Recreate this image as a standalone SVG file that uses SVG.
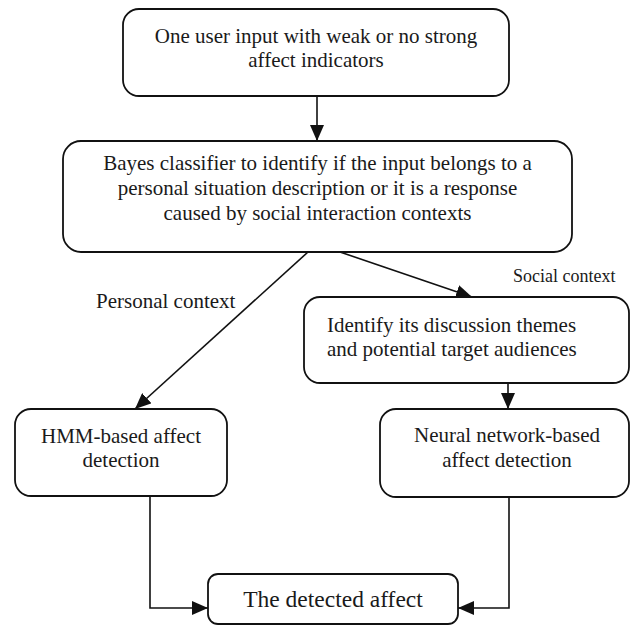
<svg xmlns="http://www.w3.org/2000/svg" width="631" height="626" viewBox="0 0 631 626">
  <defs>
    <marker id="arrow" markerUnits="userSpaceOnUse" markerWidth="16" markerHeight="14" refX="16" refY="7" orient="auto">
      <path d="M0,0 L16,7 L0,14 z" fill="#111"/>
    </marker>
    <style>
      .box { fill: #fff; stroke: #111; stroke-width: 1.8; }
      .txt { font-family: "Liberation Serif", "Times New Roman", serif; font-size: 21px; fill: #1a1a1a; }
      .mid { text-anchor: middle; }
      .edge { fill: none; stroke: #111; stroke-width: 1.6; marker-end: url(#arrow); }
    </style>
  </defs>
  <rect width="631" height="626" fill="#fff"/>

  <!-- connectors -->
  <g id="connectors">
    <path class="edge" d="M317,96 L317,141"/>
    <path class="edge" d="M308,252 L135,409"/>
    <path class="edge" d="M340,252 L472,297"/>
    <path class="edge" d="M508,383 L508,409"/>
    <path class="edge" d="M150,496 L150,608 L208,608"/>
    <path class="edge" d="M509,497 L509,608 L458,608"/>
    <text class="txt" x="96" y="308">Personal context</text>
    <text class="txt" x="513" y="282" style="font-size:18px">Social context</text>
  </g>

  <g id="input">
    <rect class="box" x="123" y="9" width="386" height="87" rx="16"/>
    <text class="txt mid" x="316" y="43">One user input with weak or no strong</text>
    <text class="txt mid" x="316" y="67">affect indicators</text>
  </g>

  <g id="bayes">
    <rect class="box" x="63" y="141" width="509" height="111" rx="18"/>
    <text class="txt mid" x="317.5" y="170">Bayes classifier to identify if the input belongs to a</text>
    <text class="txt mid" x="317.5" y="195">personal situation description or it is a response</text>
    <text class="txt mid" x="317.5" y="220">caused by social interaction contexts</text>
  </g>

  <g id="themes">
    <rect class="box" x="304" y="297" width="325" height="86" rx="16"/>
    <text class="txt" x="327" y="332">Identify its discussion themes</text>
    <text class="txt" x="327" y="356">and potential target audiences</text>
  </g>

  <g id="hmm">
    <rect class="box" x="15" y="409" width="212" height="87" rx="16"/>
    <text class="txt mid" x="121" y="443">HMM-based affect</text>
    <text class="txt mid" x="121" y="467">detection</text>
  </g>

  <g id="neural">
    <rect class="box" x="380" y="409" width="249" height="88" rx="16"/>
    <text class="txt mid" x="507" y="442">Neural network-based</text>
    <text class="txt mid" x="507" y="467">affect detection</text>
  </g>

  <g id="result">
    <rect class="box" x="208" y="574" width="250" height="50" rx="10"/>
    <text class="txt mid" x="333" y="607" style="font-size:23.5px">The detected affect</text>
  </g>
</svg>
